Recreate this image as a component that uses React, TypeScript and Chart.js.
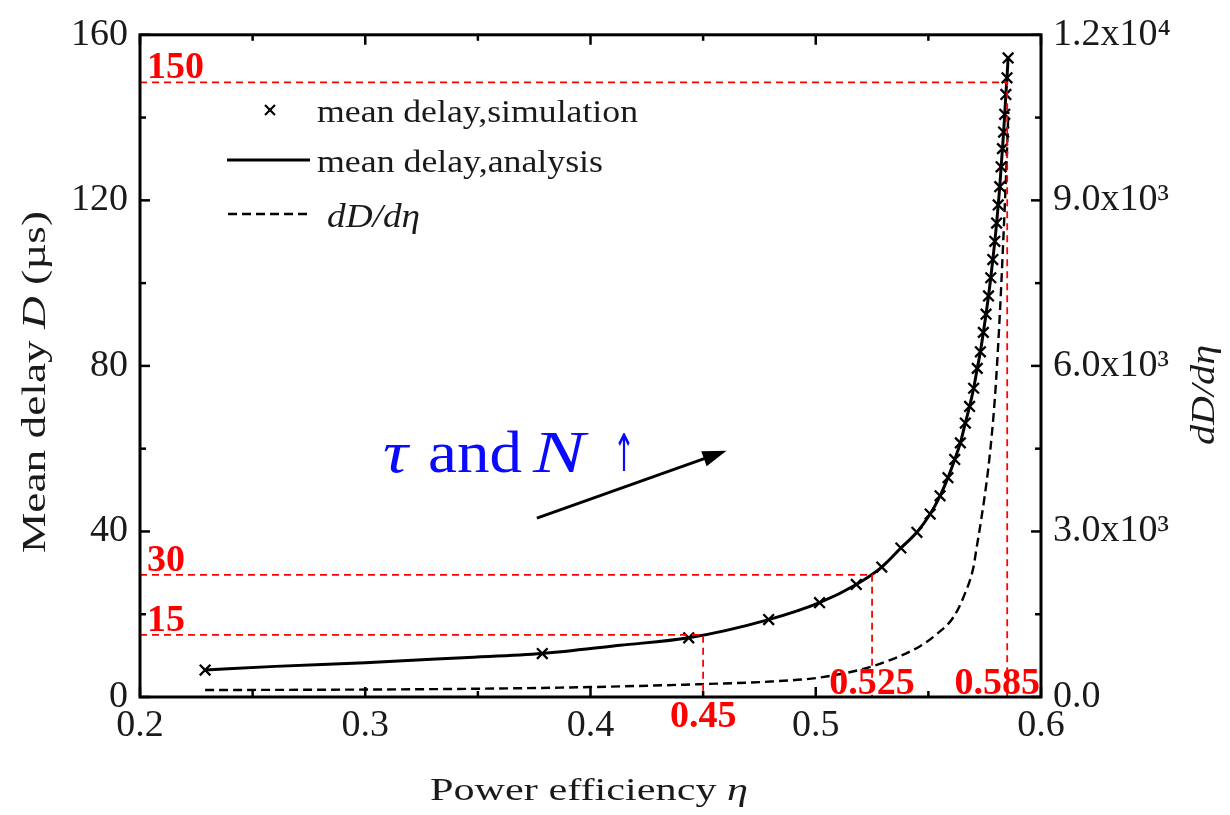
import React, { useEffect, useRef } from 'react';
import { Chart, registerables } from 'chart.js';

Chart.register(...registerables);

const SERIF = "'Liberation Serif', 'Times New Roman', serif";

// ---- data ----
const simEta = [0.2289, 0.3786, 0.4436, 0.4791, 0.5017, 0.518, 0.5293, 0.5378, 0.5449, 0.5508, 0.5552, 0.5587, 0.5617, 0.5642, 0.5664, 0.5683, 0.5701, 0.5717, 0.5731, 0.5744, 0.5756, 0.5767, 0.5777, 0.5786, 0.5795, 0.5803, 0.581, 0.5817, 0.5823, 0.5829, 0.5834, 0.5839, 0.5844, 0.5849, 0.5854];
const simDelay = [6.5, 10.5, 14.3, 18.7, 22.8, 27.2, 31.4, 36.0, 39.8, 44.2, 48.6, 53.0, 57.4, 61.4, 66.2, 70.2, 74.6, 79.4, 83.4, 88.1, 92.5, 96.9, 101.3, 105.7, 110.1, 114.5, 118.9, 123.3, 128.1, 132.5, 136.5, 140.8, 145.6, 149.6, 154.4];

const anaEta = [0.2289, 0.26, 0.3, 0.3434, 0.3786, 0.4131, 0.4436, 0.4791, 0.5017, 0.518, 0.5293, 0.5378, 0.5449, 0.5508, 0.5552, 0.5587, 0.5617, 0.5642, 0.5664, 0.5683, 0.5701, 0.5717, 0.5731, 0.5744, 0.5756, 0.5767, 0.5777, 0.5786, 0.5795, 0.5803, 0.581, 0.5817, 0.5823, 0.5829, 0.5834, 0.5839, 0.5844, 0.5849, 0.5854];
const anaDelay = [6.5, 7.4, 8.3, 9.5, 10.5, 12.5, 14.3, 18.7, 22.8, 27.2, 31.4, 36.0, 39.8, 44.2, 48.6, 53.0, 57.4, 61.4, 66.2, 70.2, 74.6, 79.4, 83.4, 88.1, 92.5, 96.9, 101.3, 105.7, 110.1, 114.5, 118.9, 123.3, 128.1, 132.5, 136.5, 140.8, 145.6, 149.6, 154.4];

const derivEta = [0.2289, 0.3, 0.35, 0.4, 0.45, 0.48, 0.502, 0.5255, 0.5463, 0.554, 0.5611, 0.566, 0.57, 0.5714, 0.5734, 0.5766, 0.5788, 0.58, 0.5818, 0.583, 0.5848, 0.5855];
const derivVal = [126, 135, 150, 180, 234, 280, 354, 562, 921, 1150, 1445, 1850, 2350, 2700, 3200, 4143, 5042, 5700, 7000, 8042, 9784, 10600];

const refEta = [0.45, 0.525, 0.585];
const refDelay = [15, 29.5, 148.5];
const refEtaLabels = ['0.45', '0.525', '0.585'];
const refDelayLabels = ['15', '30', '150'];

const xTickLabels = ['0.2', '0.3', '0.4', '0.5', '0.6'];
const yTickLabels = ['0', '40', '80', '120', '160'];
const y2TickLabels = ['0.0', '3.0x10\u00B3', '6.0x10\u00B3', '9.0x10\u00B3', '1.2x10\u2074'];

const legendLabels = ['mean delay,simulation', 'mean delay,analysis', 'dD/d\u03B7'];
const arrowFrom = { x: 0.3762, y: 43.2 };
const arrowTo = { x: 0.4604, y: 59.5 };

// ---- text helpers ----
type Run = { t: string; i?: boolean; b?: boolean; fam?: string };
function fontFor(r: Run, size: number) {
  return `${r.i ? 'italic ' : ''}${r.b ? 'bold ' : ''}${size}px ${r.fam || SERIF}`;
}
function drawRuns(ctx: CanvasRenderingContext2D, runs: Run[], o: { x: number; y: number; size: number; width?: number; align?: 'left' | 'center' | 'right'; rotate?: number; color?: string }) {
  ctx.save();
  ctx.translate(o.x, o.y);
  if (o.rotate) ctx.rotate(o.rotate);
  let total = 0;
  const ws = runs.map((r) => {
    ctx.font = fontFor(r, o.size);
    const w = ctx.measureText(r.t).width;
    total += w;
    return w;
  });
  const sx = o.width ? o.width / total : 1;
  ctx.scale(sx, 1);
  let cx = o.align === 'center' ? -total / 2 : o.align === 'right' ? -total : 0;
  ctx.fillStyle = o.color || '#1a1a1a';
  ctx.textAlign = 'left';
  ctx.textBaseline = 'alphabetic';
  runs.forEach((r, k) => {
    ctx.font = fontFor(r, o.size);
    ctx.fillText(r.t, cx, 0);
    cx += ws[k];
  });
  ctx.restore();
}
function seg(ctx: CanvasRenderingContext2D, x1: number, y1: number, x2: number, y2: number) {
  ctx.beginPath();
  ctx.moveTo(x1, y1);
  ctx.lineTo(x2, y2);
  ctx.stroke();
}

const overlay = {
  id: 'overlay',
  afterDraw(chart: any) {
    const { ctx, chartArea: ca, scales } = chart;
    const xs = scales.x, ys = scales.y, y2s = scales.y2;
    ctx.save();
    // frame
    ctx.strokeStyle = '#000';
    ctx.lineWidth = 3;
    ctx.setLineDash([]);
    ctx.strokeRect(ca.left, ca.top, ca.right - ca.left, ca.bottom - ca.top);
    // inward ticks (major + minor)
    const tickSet = (scale: any) => {
      const vals = scale.ticks.map((t: any) => t.value);
      const out: [number, boolean][] = [];
      vals.forEach((v: number, i: number) => {
        out.push([v, true]);
        if (i < vals.length - 1) out.push([(v + vals[i + 1]) / 2, false]);
      });
      return out;
    };
    ctx.lineWidth = 2.5;
    for (const [v, major] of tickSet(xs)) {
      const p = xs.getPixelForValue(v);
      const L = major ? 10 : 6;
      seg(ctx, p, ca.bottom, p, ca.bottom - L);
      seg(ctx, p, ca.top, p, ca.top + L);
    }
    for (const [v, major] of tickSet(ys)) {
      const p = ys.getPixelForValue(v);
      const L = major ? 10 : 6;
      seg(ctx, ca.left, p, ca.left + L, p);
    }
    for (const [v, major] of tickSet(y2s)) {
      const p = y2s.getPixelForValue(v);
      const L = major ? 10 : 6;
      seg(ctx, ca.right, p, ca.right - L, p);
    }

    // axis titles
    drawRuns(ctx, [{ t: 'Power efficiency ' }, { t: '\u03B7', i: true }], { x: 589, y: 800, size: 31, width: 318, align: 'center' });
    drawRuns(ctx, [{ t: 'Mean delay ' }, { t: 'D', i: true }, { t: ' (\u00B5s)' }], { x: 45, y: 382, size: 34, width: 342, align: 'center', rotate: -Math.PI / 2 });
    drawRuns(ctx, [{ t: 'dD/d\u03B7', i: true }], { x: 1214, y: 395, size: 34, width: 100, align: 'center', rotate: -Math.PI / 2 });

    // legend
    ctx.strokeStyle = '#000';
    ctx.lineWidth = 2.2;
    seg(ctx, 265, 105, 275, 115);
    seg(ctx, 265, 115, 275, 105);
    drawRuns(ctx, [{ t: legendLabels[0] }], { x: 317, y: 122, size: 32, width: 321 });
    ctx.lineWidth = 3;
    seg(ctx, 227, 160, 310, 160);
    drawRuns(ctx, [{ t: legendLabels[1] }], { x: 317, y: 172, size: 32, width: 286 });
    ctx.lineWidth = 2.5;
    ctx.setLineDash([9, 5]);
    seg(ctx, 228, 214, 310, 214);
    ctx.setLineDash([]);
    drawRuns(ctx, [{ t: legendLabels[2], i: true }], { x: 327, y: 227, size: 33, width: 93 });

    // red reference labels
    const red = '#ff0000';
    const rs = 38;
    refEta.forEach((e, i) => {
      const px = xs.getPixelForValue(e);
      ctx.font = `bold ${rs}px ${SERIF}`;
      const w = ctx.measureText(refEtaLabels[i]).width;
      let cx = px;
      if (cx + w / 2 > ca.right - 1) cx = ca.right - 1 - w / 2;
      const by = i === 0 ? ca.bottom + 30 : ca.bottom - 3;
      drawRuns(ctx, [{ t: refEtaLabels[i], b: true }], { x: cx, y: by, size: rs, align: 'center', color: red });
    });
    refDelay.forEach((d, i) => {
      const py = ys.getPixelForValue(d);
      drawRuns(ctx, [{ t: refDelayLabels[i], b: true }], { x: ca.left + 7, y: py - 4, size: rs, color: red });
    });

    // blue annotation
    const blue = '#0a0aff';
    drawRuns(ctx, [{ t: '\u03C4', i: true }], { x: 383, y: 472, size: 60, width: 25, color: blue });
    drawRuns(ctx, [{ t: 'and' }], { x: 428, y: 472, size: 60, width: 94, color: blue });
    drawRuns(ctx, [{ t: 'N', i: true }], { x: 533, y: 472, size: 60, width: 52, color: blue });
    drawRuns(ctx, [{ t: '\u2191', fam: "'DejaVu Sans', sans-serif" }], { x: 613, y: 471, size: 52, width: 22, color: blue });

    // arrow
    const ax1 = xs.getPixelForValue(arrowFrom.x), ay1 = ys.getPixelForValue(arrowFrom.y);
    const ax2 = xs.getPixelForValue(arrowTo.x), ay2 = ys.getPixelForValue(arrowTo.y);
    const ang = Math.atan2(ay2 - ay1, ax2 - ax1);
    const hl = 24, hw = 8;
    ctx.strokeStyle = '#000';
    ctx.fillStyle = '#000';
    ctx.lineWidth = 3;
    seg(ctx, ax1, ay1, ax2 - Math.cos(ang) * hl * 0.8, ay2 - Math.sin(ang) * hl * 0.8);
    ctx.beginPath();
    ctx.moveTo(ax2, ay2);
    ctx.lineTo(ax2 - Math.cos(ang) * hl - Math.sin(ang) * hw, ay2 - Math.sin(ang) * hl + Math.cos(ang) * hw);
    ctx.lineTo(ax2 - Math.cos(ang) * hl + Math.sin(ang) * hw, ay2 - Math.sin(ang) * hl - Math.cos(ang) * hw);
    ctx.closePath();
    ctx.fill();
    ctx.restore();
  },
};

export default function App() {
  const ref = useRef<HTMLCanvasElement>(null);
  useEffect(() => {
    const red = '#ff0000';
    const refSets = refEta.map((e, i) => ({
      label: 'ref' + i,
      data: [
        { x: 0.2, y: refDelay[i] },
        { x: e, y: refDelay[i] },
        { x: e, y: 0 },
      ],
      showLine: true,
      borderColor: red,
      borderWidth: 1.8,
      borderDash: [7, 5],
      pointRadius: 0,
      yAxisID: 'y',
    }));
    const tickFont = { family: SERIF, size: 38 };
    const chart = new Chart(ref.current as HTMLCanvasElement, {
      type: 'scatter',
      data: {
        datasets: [
          ...refSets,
          {
            label: legendLabels[0],
            data: simEta.map((e, i) => ({ x: e, y: simDelay[i] })),
            showLine: false,
            pointStyle: 'crossRot',
            pointRadius: 7.5,
            pointBorderWidth: 2.3,
            borderColor: '#000',
            backgroundColor: '#000',
            yAxisID: 'y',
          },
          {
            label: legendLabels[1],
            data: anaEta.map((e, i) => ({ x: e, y: anaDelay[i] })),
            showLine: true,
            cubicInterpolationMode: 'monotone',
            borderColor: '#000',
            borderWidth: 3,
            pointRadius: 0,
            yAxisID: 'y',
          },
          {
            label: legendLabels[2],
            data: derivEta.map((e, i) => ({ x: e, y: derivVal[i] })),
            showLine: true,
            cubicInterpolationMode: 'monotone',
            borderColor: '#000',
            borderWidth: 2.4,
            borderDash: [9, 5],
            pointRadius: 0,
            yAxisID: 'y2',
          },
        ] as any,
      },
      options: {
        animation: false,
        responsive: false,
        devicePixelRatio: 1,
        layout: { padding: { top: 30, left: 0, right: 0, bottom: 0 } },
        plugins: { legend: { display: false }, tooltip: { enabled: false }, title: { display: false } },
        scales: {
          x: {
            type: 'linear',
            position: 'bottom',
            min: 0.2,
            max: 0.6,
            grid: { display: false, drawTicks: false },
            border: { display: false },
            ticks: {
              stepSize: 0.1,
              autoSkip: false,
              maxRotation: 0,
              padding: 6,
              color: '#1a1a1a',
              font: tickFont,
              callback: (_v: any, i: number) => xTickLabels[i] ?? '',
            },
            afterFit: (s: any) => { s.height = 118; },
          },
          y: {
            type: 'linear',
            position: 'left',
            min: 0,
            max: 160,
            grid: { display: false, drawTicks: false },
            border: { display: false },
            ticks: {
              stepSize: 40,
              padding: 12,
              color: '#1a1a1a',
              font: tickFont,
              callback: (_v: any, i: number) => yTickLabels[i] ?? '',
            },
            afterFit: (s: any) => { s.width = 140; },
          },
          y2: {
            type: 'linear',
            position: 'right',
            min: 0,
            max: 12000,
            grid: { display: false, drawTicks: false },
            border: { display: false },
            ticks: {
              stepSize: 3000,
              padding: 12,
              color: '#1a1a1a',
              font: tickFont,
              callback: (_v: any, i: number) => y2TickLabels[i] ?? '',
            },
            afterFit: (s: any) => { s.width = 189; },
          },
        },
      } as any,
      plugins: [overlay],
    });
    return () => chart.destroy();
  }, []);
  return (
    <div style={{ position: 'absolute', left: 0, top: 0, width: 1230, height: 815, background: '#fff' }}>
      <canvas ref={ref} width={1230} height={815} style={{ display: 'block', width: 1230, height: 815 }} />
    </div>
  );
}
